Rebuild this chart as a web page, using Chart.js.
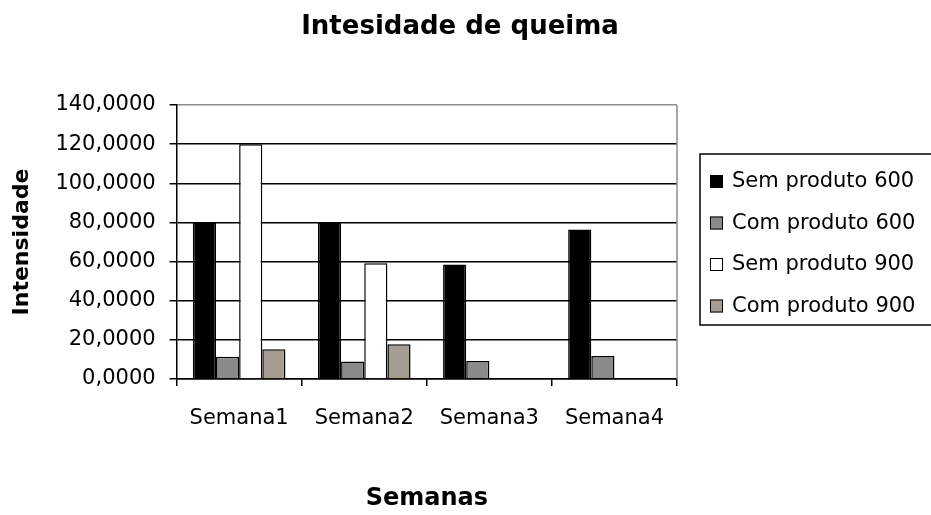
<!DOCTYPE html>
<html>
<head>
<meta charset="utf-8">
<script src="https://cdn.jsdelivr.net/npm/chart.js@4.4.1/dist/chart.umd.min.js"></script>
<style>
    html, body { margin: 0; padding: 0; background: #fff; }
    #wrap { width: 931px; height: 515px; }
</style>
</head>
<body>
<div id="wrap"><canvas id="burnChart" width="931" height="515"></canvas></div>
<script>
// ===================================
// DATA
// ===================================

const weeks = ['Semana1', 'Semana2', 'Semana3', 'Semana4'];
const seriesNames = ['Sem produto 600', 'Com produto 600', 'Sem produto 900', 'Com produto 900'];
const semProduto600 = [80, 80, 58.5, 76.4];
const comProduto600 = [11.4, 8.9, 9.2, 11.8];
const semProduto900 = [120, 59.1, null, null];
const comProduto900 = [15.2, 17.8, null, null];
const yTicks = [0, 20, 40, 60, 80, 100, 120, 140];

const seriesFill = ['#000000', '#8a8a8a', '#ffffff', '#a69d92'];
const FONT = 'DejaVu Sans';

// ===================================
// PLUGINS
// ===================================

// title drawn by hand so it centres over the whole picture, not the padded box
const titlePlugin = {
    id: 'fixedTitle',
    afterDraw(chart) {
        const ctx = chart.ctx;
        ctx.save();
        ctx.fillStyle = '#000';
        ctx.font = 'bold 26px "' + FONT + '"';
        ctx.textAlign = 'center';
        ctx.textBaseline = 'alphabetic';
        ctx.fillText('Intesidade de queima', 460, 34);
        ctx.restore();
    }
};

// grey frame on the right of the plot
const framePlugin = {
    id: 'plotFrame',
    beforeDatasetsDraw(chart) {
        const { ctx, chartArea } = chart;
        ctx.save();
        ctx.strokeStyle = '#8c8c8c';
        ctx.lineWidth = 1.5;
        ctx.beginPath();
        ctx.moveTo(chartArea.right, chartArea.top);
        ctx.lineTo(chartArea.right, chartArea.bottom);
        ctx.stroke();
        ctx.restore();
    }
};

// legend box that runs off the right edge, like the original
const legendPlugin = {
    id: 'clippedLegend',
    afterDraw(chart) {
        const ctx = chart.ctx;
        const x = 700, y = 154, w = 260, h = 171;
        ctx.save();
        ctx.strokeStyle = '#000';
        ctx.lineWidth = 1.5;
        ctx.strokeRect(x, y, w, h);
        ctx.font = '21px "' + FONT + '"';
        ctx.textBaseline = 'middle';
        chart.data.datasets.forEach((ds, i) => {
            const cy = 181 + i * 41.5;
            ctx.fillStyle = ds.backgroundColor;
            ctx.fillRect(710, cy - 6, 13, 13);
            ctx.strokeStyle = '#000';
            ctx.lineWidth = 1;
            ctx.strokeRect(710.5, cy - 5.5, 12, 12);
            ctx.fillStyle = '#000';
            ctx.fillText(ds.label, 732, cy + 1);
        });
        ctx.restore();
    }
};

// ===================================
// CHART
// ===================================

const seriesData = [semProduto600, comProduto600, semProduto900, comProduto900];

new Chart(document.getElementById('burnChart'), {
    type: 'bar',
    data: {
        labels: weeks,
        datasets: seriesData.map((values, i) => ({
            label: seriesNames[i],
            data: values,
            backgroundColor: seriesFill[i],
            borderColor: '#000',
            borderWidth: 1.5,
            categoryPercentage: 0.74,
            barPercentage: 1
        }))
    },
    options: {
        responsive: false,
        animation: false,
        layout: { padding: { top: 105, right: 254, left: 0, bottom: 2 } },
        plugins: {
            legend: { display: false },
            title: { display: false },
            tooltip: { enabled: false }
        },
        scales: {
            x: {
                grid: {
                    offset: true,
                    drawOnChartArea: false,
                    drawTicks: true,
                    tickLength: 7,
                    color: '#000',
                    lineWidth: 1.5
                },
                border: { color: '#000', width: 1.5 },
                ticks: {
                    color: '#000',
                    padding: 20,
                    font: { family: FONT, size: 21 }
                },
                title: {
                    display: true,
                    text: 'Semanas',
                    color: '#000',
                    font: { family: FONT, size: 24, weight: 'bold' },
                    padding: { top: 33, bottom: 0 }
                }
            },
            y: {
                min: 0,
                max: 140,
                afterBuildTicks(axis) {
                    axis.ticks = yTicks.map(v => ({ value: v }));
                },
                grid: {
                    color: c => (c.tick && c.tick.value === 140 ? '#8c8c8c' : '#000'),
                    tickColor: '#000',
                    lineWidth: 1.5,
                    tickLength: 7
                },
                border: { color: '#000', width: 1.5 },
                ticks: {
                    color: '#000',
                    padding: 14,
                    font: { family: FONT, size: 21 },
                    callback: v => v.toFixed(4).replace('.', ',')
                },
                title: {
                    display: true,
                    text: 'Intensidade',
                    color: '#000',
                    font: { family: FONT, size: 22, weight: 'bold' },
                    padding: { top: 9, bottom: 6 }
                }
            }
        }
    },
    plugins: [titlePlugin, framePlugin, legendPlugin]
});
</script>
</body>
</html>
